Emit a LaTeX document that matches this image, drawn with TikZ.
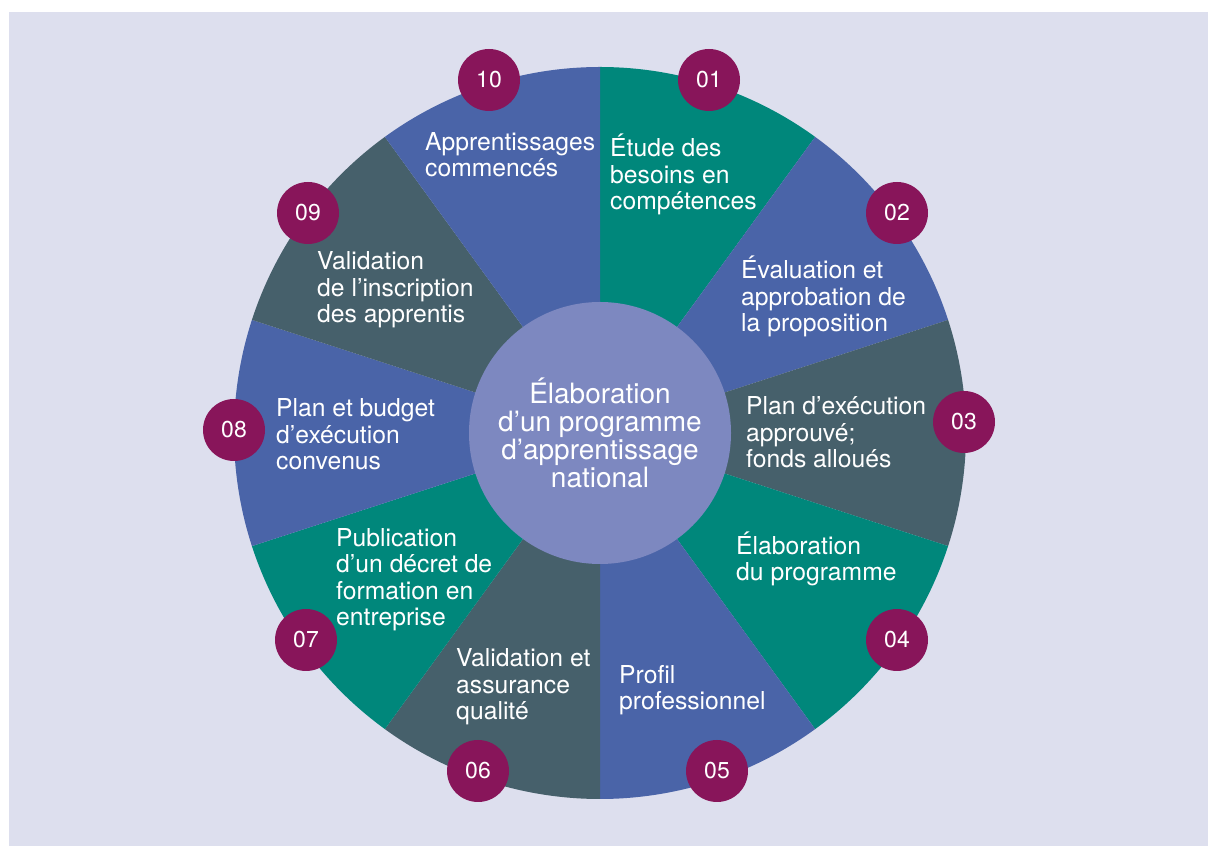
\documentclass[tikz,border=0pt]{standalone}
\usepackage{fontspec}
\setmainfont{TeX Gyre Heros}
\definecolor{pagebg}{HTML}{DDDFEE}
\definecolor{tealc}{HTML}{00877B}
\definecolor{bluec}{HTML}{4A64A8}
\definecolor{slatec}{HTML}{46606B}
\definecolor{hubc}{HTML}{7D88C0}
\definecolor{badgec}{HTML}{88155A}
\tikzset{
    steptext/.style={text=white, align=left, inner sep=0pt, anchor=base west,
        font=\fontsize{24.7}{26.6}\selectfont},
    badge/.style={circle, fill=badgec, minimum size=62pt, inner sep=0pt,
        text=white, font=\fontsize{23}{23}\selectfont},
}
\begin{document}
\begin{tikzpicture}[x=1pt, y=1pt]
\useasboundingbox (0,0) rectangle (1208,846);
\fill [pagebg] (9,0) rectangle (1208,834);

% wheel
\coordinate (hub) at (600,413);
\foreach \c [count=\i, evaluate=\i as \a using 126-36*\i] in
    {tealc, bluec, slatec, tealc, bluec, slatec, tealc, bluec, slatec, bluec}
    \fill [\c] (hub) -- ++(\a:366) arc[start angle=\a, end angle=\a-36, radius=366] -- cycle;

% centre
\node (hubtext) [circle,
    fill=hubc,
    minimum size=262pt,
    inner sep=0pt,
    text=white,
    align=center,
    font=\fontsize{28}{28}\selectfont
] at (hub) {Élaboration\\d’un programme\\d’apprentissage\\national};

% steps (placed on the baseline of their last line)
\node (step01) [steptext] at (610,636) {Étude des\\besoins en\\compétences};
\node (step02) [steptext] at (741,514) {Évaluation et\\approbation de\\la proposition};
\node (step03) [steptext] at (746,378) {Plan d’exécution\\approuvé;\\fonds alloués};
\node (step04) [steptext] at (736,265) {Élaboration\\du programme};
\node (step05) [steptext] at (619,136) {Profil\\professionnel};
\node (step06) [steptext] at (456,126) {Validation et\\assurance\\qualité};
\node (step07) [steptext] at (336,220) {Publication\\d’un décret de\\formation en\\entreprise};
\node (step08) [steptext] at (276,376) {Plan et budget\\d’exécution\\convenus};
\node (step09) [steptext] at (317,523) {Validation\\de l’inscription\\des apprentis};
\node (step10) [steptext] at (425,669) {Apprentissages\\commencés};

% numbers
\foreach \n/\p in {01/{(709,766)}, 02/{(897,633)}, 03/{(964,424)}, 04/{(897,206)},
                   05/{(717,75)}, 06/{(478,75)}, 07/{(306,206)}, 08/{(234,416)},
                   09/{(308,633)}, 10/{(489,766)}}
    \node (num\n) [badge] at \p {\n};

\end{tikzpicture}
\end{document}
